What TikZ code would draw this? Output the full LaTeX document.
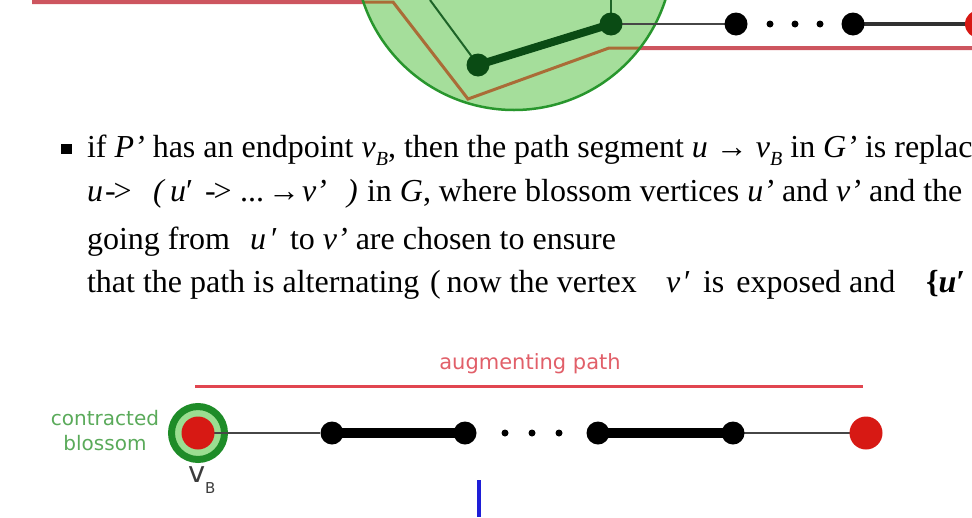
\documentclass[tikz,border=0pt]{standalone}
\usepackage{fontspec}
\setmainfont{Liberation Serif}
\newfontfamily\lblfont{DejaVu Sans}
\pgfdeclarelayer{backlayer}
\pgfdeclarelayer{edgelayer}
\pgfsetlayers{backlayer,edgelayer,main}
\definecolor{redln}{RGB}{205,85,95}
\definecolor{brownln}{RGB}{170,108,55}
\definecolor{circfill}{RGB}{165,222,155}
\definecolor{circline}{RGB}{40,150,45}
\definecolor{dkgreen}{RGB}{10,75,20}
\definecolor{gline}{RGB}{30,100,40}
\definecolor{edgegray}{RGB}{70,70,70}
\definecolor{nodered}{RGB}{215,25,20}
\definecolor{augred}{RGB}{225,95,105}
\definecolor{augline}{RGB}{225,70,80}
\definecolor{blgreen}{RGB}{90,170,90}
\definecolor{ringgreen}{RGB}{30,140,40}
\definecolor{ringfill}{RGB}{155,222,145}
\definecolor{vbgray}{RGB}{60,60,60}
\definecolor{blueln}{RGB}{30,30,215}
\newcommand\subB{\raisebox{-8pt}{\fontsize{20}{20}\selectfont\textit{B}}}
\tikzset{
  txt/.style={anchor=base west, inner sep=0pt, outer sep=0pt, font=\fontsize{32}{38}\selectfont},
  lbl/.style={inner sep=0pt, outer sep=0pt, anchor=base, font=\lblfont\fontsize{20}{24}\selectfont},
  blacknode/.style={circle, fill=black, minimum size=23pt, inner sep=0pt},
  gnode/.style={circle, fill=dkgreen, minimum size=23pt, inner sep=0pt},
  rednode/.style={circle, fill=nodered, inner sep=0pt},
  smalldot/.style={circle, fill=black, minimum size=7pt, inner sep=0pt},
  ringnode/.style={circle, draw=ringgreen, line width=7pt, fill=ringfill, minimum size=53pt, inner sep=0pt},
  thinedge/.style={draw=edgegray, line width=2pt},
  midedge/.style={draw=edgegray!70!black, line width=4pt},
  thickedge/.style={draw=black, line width=10pt},
  gthin/.style={draw=gline, line width=2pt},
  gthick/.style={draw=dkgreen, line width=8pt},
  redpath/.style={draw=redln, line width=4pt},
  brownpath/.style={draw=brownln, line width=3pt},
}
\begin{document}
\begin{tikzpicture}[x=1pt,y=-1pt]
\useasboundingbox (0,0) rectangle (972,517);
% ---------- top diagram ----------
\coordinate (rA) at (32,2);
\coordinate (rB) at (393,2);
\coordinate (rC) at (468,99);
\coordinate (rD) at (609,48);
\coordinate (rE) at (972,48);
\coordinate (bcen) at (514,-49);
\begin{pgfonlayer}{backlayer}
\draw[redpath] (rA) -- (rB) -- (rC) -- (rD) -- (rE);
\fill[circfill] (bcen) circle[radius=159];
\begin{scope}
\clip (bcen) circle[radius=159];
\draw[brownpath] (rA) -- (rB) -- (rC) -- (rD) -- (rE);
\end{scope}
\draw[draw=circline, line width=2.5pt] (bcen) circle[radius=159];
\end{pgfonlayer}
\node[gnode] (ga) at (478,65) {};
\node[gnode] (gb) at (611,24) {};
\node[blacknode] (ta) at (736,24) {};
\node[smalldot] (tda) at (770,24) {};
\node[smalldot] (tdb) at (795,24) {};
\node[smalldot] (tdc) at (820,24) {};
\node[blacknode] (tb) at (853,24) {};
\node[rednode, minimum size=28pt] (tc) at (979,24) {};
\coordinate (gaup) at (430,0);
\coordinate (gbup) at (611,0);
\begin{pgfonlayer}{edgelayer}
\draw[gthin] (ga.center) -- (gaup);
\draw[gthin] (gb.center) -- (gbup);
\draw[gthick] (ga.center) -- (gb.center);
\draw[thinedge] (gb.center) -- (ta.center);
\draw[midedge] (tb.center) -- (tc.center);
\end{pgfonlayer}
% ---------- text ----------
\node[fill=black, minimum width=11pt, minimum height=10pt, inner sep=0pt] (bul) at (66,149) {};
\node[txt] (l1) at (87,157) {if \textit{P’} has an endpoint \textit{v}\subB, then the path segment \textit{u} → \textit{v}\subB{} in \textit{G’} is replac};
\node[txt] (l2a) at (87,201) {\textit{u}};
\node[txt] (l2b) at (105,201) {-\kern-2pt>};
\node[txt] (l2c) at (153,201) {\textit{(}};
\node[txt] (l2d) at (170,201) {\textit{u}′};
\node[txt] (l2e) at (205,201) {-\kern-2pt>};
\node[txt] (l2f) at (240,201) {...};
\node[txt] (l2g) at (268,201) {→};
\node[txt] (l2h) at (302,201) {\textit{v’}};
\node[txt] (l2i) at (347,201) {\textit{)}};
\node[txt] (l2j) at (367,201) {in \textit{G}, where blossom vertices \textit{u’} and \textit{v’} and the};
\node[txt] (l3a) at (87,249) {going from};
\node[txt] (l3b) at (250,249) {\textit{u}\hspace{5pt}′};
\node[txt] (l3c) at (290,249) {to \textit{v’} are chosen to ensure};
\node[txt] (l4a) at (87,292) {that the path is alternating};
\node[txt] (l4b) at (430,292) {(\hspace{6pt}now the vertex};
\node[txt] (l4c) at (666,292) {\textit{v}\hspace{4pt}′};
\node[txt] (l4d) at (703,292) {is\hspace{12pt}exposed\hspace{8pt}and};
\node[txt] (l4e) at (926,292) {\textbf{\{\textit{u}′}};
% ---------- bottom diagram ----------
\coordinate (apA) at (195,386);
\coordinate (apB) at (863,386);
\draw[draw=augline, line width=3pt] (apA) -- (apB);
\node[lbl, text=augred, font=\lblfont\fontsize{21}{24}\selectfont] (augl) at (530,369) {augmenting path};
\node[lbl, text=blgreen] (contr) at (105,425) {contracted};
\node[lbl, text=blgreen] (bloss) at (105,450) {blossom};
\node[ringnode] (vb) at (198,433) {};
\node[blacknode] (ba) at (332,433) {};
\draw[thinedge] (vb.center) -- (ba);
\node[rednode, minimum size=33pt] (vbin) at (198,433) {};
\node[blacknode] (bb) at (465,433) {};
\node[smalldot] (bda) at (505,433) {};
\node[smalldot] (bdb) at (532,433) {};
\node[smalldot] (bdc) at (559,433) {};
\node[blacknode] (bc) at (598,433) {};
\node[blacknode] (bd) at (733,433) {};
\node[rednode, minimum size=33pt] (be) at (866,433) {};
\begin{pgfonlayer}{edgelayer}
\draw[thickedge] (ba.center) -- (bb.center);
\draw[thickedge] (bc.center) -- (bd.center);
\draw[thinedge] (bd.center) -- (be.center);
\end{pgfonlayer}
\node[inner sep=0pt, outer sep=0pt, anchor=base west, text=vbgray, font=\lblfont\fontsize{29}{30}\selectfont] (vbl) at (188,482) {v\raisebox{-11pt}{\fontsize{15}{15}\selectfont B}};
\coordinate (blA) at (479,480);
\coordinate (blB) at (479,517);
\draw[draw=blueln, line width=4pt] (blA) -- (blB);
\end{tikzpicture}
\end{document}
